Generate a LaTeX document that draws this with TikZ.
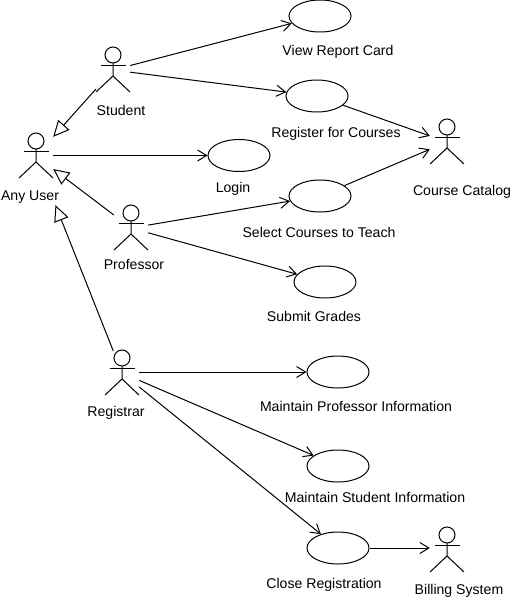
\documentclass[tikz,border=0pt]{standalone}
\usepackage{fontspec}
\setmainfont{Liberation Sans}
\usetikzlibrary{shapes.geometric,arrows.meta}
\tikzset{
  actorbox/.style={rectangle,draw=none,minimum width=34pt,minimum height=44pt,inner sep=0pt},
  usecase/.style={ellipse,draw=black,line width=1pt,minimum width=62pt,minimum height=32pt,inner sep=0pt},
  lbl/.style={font=\fontsize{14.1}{16}\selectfont,inner sep=0pt,text=black,anchor=base,yshift=-5pt},
  figure/.style={draw=black,line width=1pt},
  assoc/.style={draw=black,line width=1pt,-{Straight Barb[length=9pt,width=11pt,line width=1pt]}},
  gener/.style={draw=black,line width=1pt,-{Triangle[open,fill=white,length=16pt,width=15pt,line width=1pt]}}
}
\newcommand{\actorfig}[3]{%
  \node[actorbox] (#1) at (#2,#3) {};
  \draw[figure] (#1) ++(0,-15) circle (8pt);
  \draw[figure] (#1) ++(-12.5,-4.5) -- ++(25,0);
  \draw[figure] (#1) ++(0,-7) -- ++(0,13) -- ++(-17,16);
  \draw[figure] (#1) ++(0,6) -- ++(17,16);
}
\begin{document}
\begin{tikzpicture}[x=1pt,y=-1pt]
\useasboundingbox (0,0) rectangle (525,600);
\actorfig{student}{113}{70}
\actorfig{anyuser}{36}{156}
\actorfig{professor}{131}{228}
\actorfig{registrar}{122}{373}
\actorfig{catalog}{447}{142}
\actorfig{billing}{447}{550}

\node[usecase] (view) at (320,16) {};
\node[usecase] (register) at (317,96) {};
\node[usecase] (login) at (239,155.5) {};
\node[usecase] (select) at (320,196) {};
\node[usecase] (submit) at (325,282) {};
\node[usecase] (mprof) at (338,372) {};
\node[usecase] (mstud) at (338,466) {};
\node[usecase] (close) at (338,548) {};

\node[lbl] (tstudent) at (121,110.5) {Student};
\node[lbl] (tany) at (30,195) {Any User};
\node[lbl] (tprof) at (134,264) {Professor};
\node[lbl] (treg) at (116,411) {Registrar};
\node[lbl] (tcat) at (462,190) {Course Catalog};
\node[lbl] (tbill) at (459,589) {Billing System};
\node[lbl] (tview) at (338,50) {View Report Card};
\node[lbl] (treg2) at (336,132) {Register for Courses};
\node[lbl] (tlogin) at (233,187) {Login};
\node[lbl] (tselect) at (319,232) {Select Courses to Teach};
\node[lbl] (tsubmit) at (314,316) {Submit Grades};
\node[lbl] (tmprof) at (356,406) {Maintain Professor Information};
\node[lbl] (tmstud) at (375,497) {Maintain Student Information};
\node[lbl] (tclose) at (324,583) {Close Registration};

\draw[assoc] (student) -- (view);
\draw[assoc] (student) -- (register);
\draw[assoc] (anyuser.east |- login.west) -- (login.west);
\draw[assoc] (professor) -- (select);
\draw[assoc] (professor) -- (submit);
\draw[assoc] (registrar.east |- mprof.west) -- (mprof.west);
\draw[assoc] (registrar) -- (mstud);
\draw[assoc] (registrar) -- (close);
\draw[assoc] (register) -- (catalog);
\draw[assoc] (select) -- (catalog);
\draw[assoc] (close.east) -- (close.east -| billing.west);
\draw[gener] (student) -- (anyuser);
\draw[gener] (professor) -- (anyuser);
\draw[gener,shorten >=29pt] (registrar) -- (anyuser);
\end{tikzpicture}
\end{document}
